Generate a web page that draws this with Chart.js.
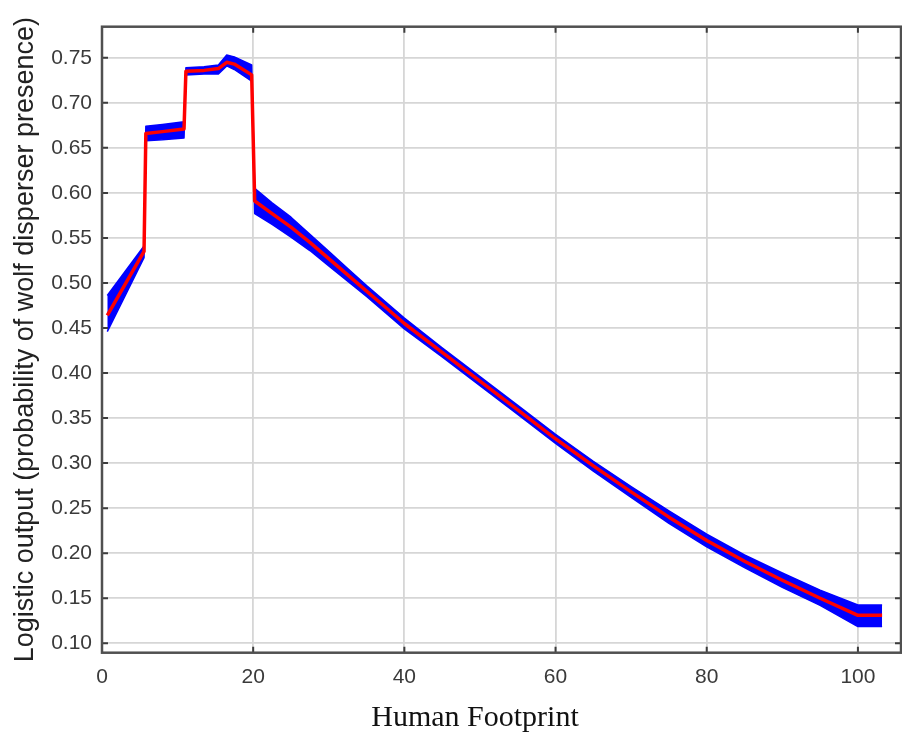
<!DOCTYPE html>
<html>
<head>
<meta charset="utf-8">
<script src="https://cdn.jsdelivr.net/npm/chart.js@4.4.1/dist/chart.umd.min.js"></script>
<style>
  html, body { margin: 0; padding: 0; background: #fff; }
</style>
</head>
<body>
<canvas id="chart" width="902" height="738"></canvas>
<script>
// values
var footprint = [0.7, 5.56, 5.8, 8.0, 10.85, 11.1, 13.5, 15.4, 16.5, 17.5, 19.8, 20.2,
  22.5, 25, 27.5, 30, 32.5, 35, 37.5, 40, 45, 50, 55, 60, 65, 70, 75, 80, 85, 90, 95, 100, 103.2];
var meanOutput = [0.464, 0.535, 0.666, 0.668, 0.671, 0.735, 0.736, 0.738, 0.745, 0.743, 0.731, 0.591,
  0.577, 0.562, 0.545, 0.527, 0.509, 0.491, 0.473, 0.455, 0.423, 0.391, 0.359, 0.327, 0.297, 0.268, 0.240, 0.214, 0.191, 0.170, 0.150, 0.131, 0.131];
var upperOutput = [0.486, 0.541, 0.674, 0.676, 0.679, 0.739, 0.740, 0.742, 0.753, 0.751, 0.742, 0.605,
  0.589, 0.573, 0.554, 0.535, 0.516, 0.497, 0.479, 0.461, 0.428, 0.396, 0.364, 0.332, 0.302, 0.274, 0.247, 0.221, 0.198, 0.178, 0.159, 0.1425, 0.1425];
var lowerOutput = [0.446, 0.528, 0.658, 0.659, 0.661, 0.731, 0.732, 0.732, 0.741, 0.737, 0.724, 0.577,
  0.565, 0.551, 0.536, 0.519, 0.502, 0.485, 0.467, 0.449, 0.418, 0.386, 0.354, 0.322, 0.291, 0.262, 0.233, 0.207, 0.184, 0.162, 0.142, 0.1185, 0.1185];
var xTicks = [0, 20, 40, 60, 80, 100];
var yTicks = [0.10, 0.15, 0.20, 0.25, 0.30, 0.35, 0.40, 0.45, 0.50, 0.55, 0.60, 0.65, 0.70, 0.75];
var xTitle = 'Human Footprint';

function toPoints(ys) {
  var pts = [];
  for (var i = 0; i < footprint.length; i++) {
    pts.push({ x: footprint[i], y: ys[i] });
  }
  return pts;
}

// box round the plot, small inward ticks and the x title
var framePlugin = {
  id: 'frame',
  afterDatasetsDraw: function (chart) {
    var ctx = chart.ctx;
    var a = chart.chartArea;
    var xs = chart.scales.x;
    var ys = chart.scales.y;
    ctx.save();
    ctx.strokeStyle = '#3c3c3c';
    ctx.lineWidth = 2;
    var len = 6;
    ctx.beginPath();
    xTicks.forEach(function (v) {
      var px = xs.getPixelForValue(v);
      ctx.moveTo(px, a.bottom); ctx.lineTo(px, a.bottom - len);
      ctx.moveTo(px, a.top); ctx.lineTo(px, a.top + len);
    });
    yTicks.forEach(function (v) {
      var py = ys.getPixelForValue(v);
      ctx.moveTo(a.left, py); ctx.lineTo(a.left + len, py);
      ctx.moveTo(a.right, py); ctx.lineTo(a.right - len, py);
    });
    ctx.stroke();
    ctx.strokeStyle = '#505050';
    ctx.lineWidth = 2.5;
    ctx.strokeRect(a.left, a.top, a.right - a.left, a.bottom - a.top);
    // x title, centred where the original one sits
    ctx.fillStyle = '#111';
    ctx.font = '30px "Liberation Serif"';
    ctx.textAlign = 'center';
    ctx.textBaseline = 'middle';
    ctx.fillText(xTitle, 475, 718);
    ctx.restore();
  }
};

var ctx = document.getElementById('chart').getContext('2d');
new Chart(ctx, {
  type: 'line',
  data: {
    datasets: [{
      data: toPoints(upperOutput),
      borderColor: '#0000ff',
      borderWidth: 1.5,
      pointRadius: 0,
      fill: false,
      order: 2
    }, {
      data: toPoints(lowerOutput),
      borderColor: '#0000ff',
      backgroundColor: '#0000ff',
      borderWidth: 1.5,
      pointRadius: 0,
      fill: '-1',
      order: 1
    }, {
      data: toPoints(meanOutput),
      borderColor: '#ff0000',
      borderWidth: 3.5,
      pointRadius: 0,
      fill: false,
      order: 0
    }]
  },
  options: {
    responsive: false,
    animation: false,
    elements: { line: { tension: 0, borderJoinStyle: 'round' } },
    layout: { padding: { top: 26.7, right: 1, left: 0, bottom: 0 } },
    plugins: { legend: { display: false }, tooltip: { enabled: false } },
    scales: {
      x: {
        type: 'linear',
        min: 0,
        max: 105.7,
        afterBuildTicks: function (scale) {
          scale.ticks = xTicks.map(function (v) { return { value: v }; });
        },
        afterFit: function (scale) { scale.height = 85.3; },
        grid: { color: '#d6d6d6', lineWidth: 1.8, drawTicks: false },
        border: { display: false },
        ticks: {
          color: '#3a3a3a',
          padding: 12,
          maxRotation: 0,
          font: { family: 'Liberation Sans', size: 21 },
          callback: function (v) { return String(v); }
        }
      },
      y: {
        type: 'linear',
        min: 0.0895,
        max: 0.7845,
        afterBuildTicks: function (scale) {
          scale.ticks = yTicks.map(function (v) { return { value: v }; });
        },
        afterFit: function (scale) { scale.width = 102; },
        grid: { color: '#d6d6d6', lineWidth: 1.8, drawTicks: false },
        border: { display: false },
        ticks: {
          color: '#3a3a3a',
          padding: 10,
          font: { family: 'Liberation Sans', size: 21 },
          callback: function (v) { return v.toFixed(2); }
        },
        title: {
          display: true,
          text: 'Logistic output (probability of wolf disperser presence)',
          color: '#222',
          font: { family: 'Liberation Sans', size: 27 },
          padding: { top: 9, bottom: 0 }
        }
      }
    }
  },
  plugins: [framePlugin]
});
</script>
</body>
</html>
